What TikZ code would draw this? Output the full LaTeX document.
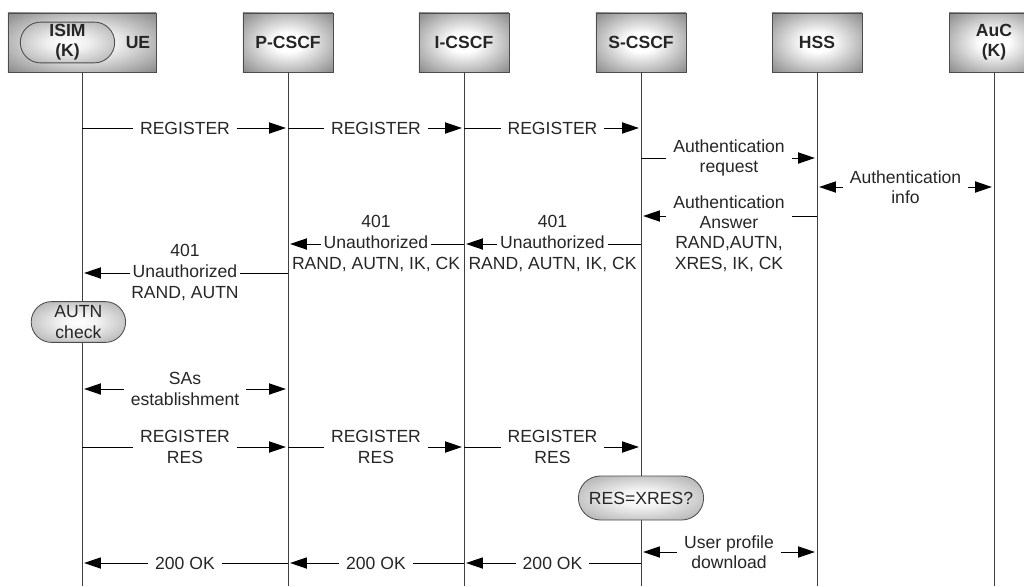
\documentclass[tikz,border=0pt]{standalone}
\usepackage{fontspec}
\setmainfont{Liberation Sans}
\usepackage{tikz}
\usetikzlibrary{arrows.meta,positioning,shapes.misc}

\newcommand{\msgfont}{\fontsize{12.5}{14.4}\selectfont}

\pgfdeclareradialshading{boxglow}{\pgfpoint{0bp}{0bp}}{color(0bp)=(white);
  color(8bp)=(white); color(36bp)=(black!47); color(50bp)=(black!55)}
\pgfdeclareradialshading{pillglow}{\pgfpoint{0bp}{0bp}}{color(0bp)=(white);
  color(10bp)=(black!5); color(32bp)=(black!30); color(50bp)=(black!40)}

\tikzset{
  entity/.style={draw=black!70, line width=0.6pt, shade, shading=boxglow,
                 minimum width=2.25cm, minimum height=1.475cm,
                 inner sep=1pt, align=center,
                 font=\msgfont\bfseries, text=black!85},
  pill/.style={rounded rectangle, draw=black!70, line width=0.6pt,
               shade, shading=pillglow,
               minimum width=2.43cm, minimum height=1.02cm,
               inner sep=1pt, align=center, text=black!85},
  lifeline/.style={draw=black!75, line width=0.6pt},
  msg/.style={draw=black, line width=0.7pt, shorten >=1.5pt,
              -{Triangle[length=12pt,width=8pt]}},
  msgboth/.style={msg, shorten <=1.5pt,
                  {Triangle[length=12pt,width=8pt]}-{Triangle[length=12pt,width=8pt]}},
  lbl/.style={fill=white, align=center, inner xsep=5pt, inner ysep=1pt,
              text=black!85},
  row/.style={inner xsep=2pt, inner ysep=1.5pt, text height=9.2pt,
              text depth=2.2pt, text=black!85}
}

\begin{document}
\begin{tikzpicture}[x=0.025cm, y=-0.025cm, font=\msgfont]
  \path[use as bounding box, clip] (0,0) rectangle (1024,586);

  % entities
  \node[entity, minimum width=3.7cm] (ue) at (82,42.5) {};
  \node[pill, font=\msgfont\bfseries] (isim) at (67.5,42.5) {ISIM\\(K)};
  \node[font=\msgfont\bfseries, text=black!85] (uename) at (138,42.5) {UE};
  \foreach \name/\x/\txt in {pcscf/288/P-CSCF, icscf/464/I-CSCF,
                             scscf/641/S-CSCF, hss/817/HSS, auc/994/{AuC\\(K)}}
    \node[entity] (\name) at (\x,42.5) {\txt};

  % lifelines
  \coordinate (bottom) at (0,586);
  \foreach \name in {ue,pcscf,icscf,scscf,hss,auc}
    \draw[lifeline] (\name.south) -- (\name.south |- bottom);

  % message rows
  \foreach \r/\y in {reg/128, areq/158, ainfo/187, aans/216, unS/244,
                     unP/273, autn/322, sas/389, res/447, xres/498,
                     upd/552, ok/563}
    \coordinate (\r) at (0,\y);

  % register
  \foreach \a/\b/\n in {ue/pcscf/1, pcscf/icscf/2, icscf/scscf/3}
    \draw[msg] (\a |- reg) -- node[lbl] (reg\n) {REGISTER} (\b |- reg);

  % authentication vectors
  \draw[msg] (scscf |- areq) -- node[lbl] (areq1) {Authentication\\request} (hss |- areq);
  \draw[msgboth] (hss |- ainfo) -- node[lbl] (ainfo1) {Authentication\\info} (auc |- ainfo);
  \draw[msg] (hss |- aans) -- node[lbl, yshift=-0.44cm] (aans1)
    {Authentication\\Answer\\RAND,AUTN,\\XRES, IK, CK} (scscf |- aans);

  % 401 back to the UE
  \draw[msg] (scscf |- unS) -- node[row, fill=white] (un1) {Unauthorized} (icscf |- unS);
  \node[row, above=0pt of un1] (code1) {401};
  \node[row, below=0pt of un1] (vec1) {RAND, AUTN, IK, CK};
  \draw[msg] (icscf |- unS) -- node[row, fill=white] (un2) {Unauthorized} (pcscf |- unS);
  \node[row, above=0pt of un2] (code2) {401};
  \node[row, below=0pt of un2] (vec2) {RAND, AUTN, IK, CK};
  \draw[msg] (pcscf |- unP) -- node[row, fill=white] (un3) {Unauthorized} (ue |- unP);
  \node[row, above=0pt of un3] (code3) {401};
  \node[row, below=0pt of un3] (vec3) {RAND, AUTN};

  \node[pill, xshift=-0.09cm] (chk) at (ue |- autn) {AUTN\\check};

  \draw[msgboth] (ue |- sas) -- node[lbl] (sas1) {SAs\\establishment} (pcscf |- sas);

  % second register
  \foreach \a/\b/\n in {ue/pcscf/1, pcscf/icscf/2, icscf/scscf/3}
    \draw[msg] (\a |- res) -- node[lbl] (res\n) {REGISTER\\RES} (\b |- res);

  \node[pill, minimum width=3.2cm, minimum height=1.1cm] (cmp) at (scscf |- xres) {RES=XRES?};

  \draw[msgboth] (scscf |- upd) -- node[lbl] (upd1) {User profile\\download} (hss |- upd);

  % 200 OK
  \foreach \a/\b/\n in {scscf/icscf/1, icscf/pcscf/2, pcscf/ue/3}
    \draw[msg] (\a |- ok) -- node[lbl] (ok\n) {200 OK} (\b |- ok);
\end{tikzpicture}
\end{document}
